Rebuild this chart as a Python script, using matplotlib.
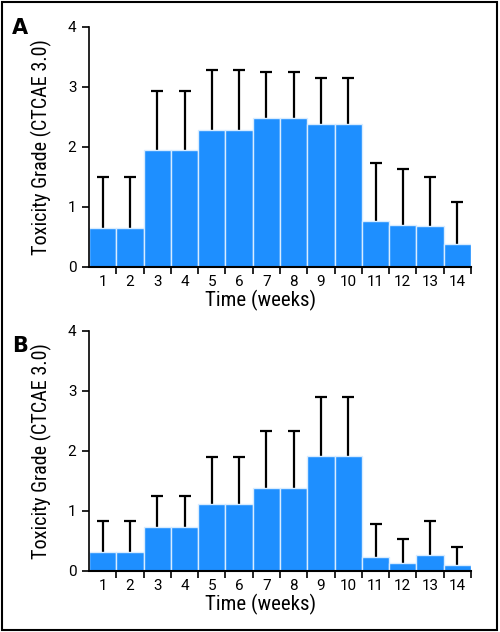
import matplotlib.pyplot as plt
from matplotlib.patches import Rectangle
import numpy as np

weeks = list(range(1, 15))
grade_a = [0.64, 0.64, 1.95, 1.95, 2.27, 2.27, 2.48, 2.48, 2.37, 2.37, 0.76, 0.69, 0.67, 0.37]
err_a = [0.86, 0.86, 0.98, 0.98, 1.00, 1.00, 0.77, 0.77, 0.78, 0.78, 0.96, 0.94, 0.83, 0.70]
grade_b = [0.31, 0.31, 0.72, 0.72, 1.11, 1.11, 1.38, 1.38, 1.91, 1.91, 0.23, 0.12, 0.26, 0.09]
err_b = [0.51, 0.51, 0.53, 0.53, 0.79, 0.79, 0.94, 0.94, 0.99, 0.99, 0.55, 0.41, 0.57, 0.31]

label_font = ['Roboto Condensed', 'DejaVu Sans']
tick_font = ['Roboto', 'DejaVu Sans']
bar_color = '#1e8fff'

fig = plt.figure(figsize=(5.0, 6.32), dpi=100)

def draw_panel(ax, vals, errs):
    ax.bar(weeks, vals, width=1.0, color=bar_color, edgecolor='#d8ecff', linewidth=1.0, zorder=2)
    eb = ax.errorbar(weeks, vals, yerr=[np.zeros(len(errs)), errs], fmt='none', ecolor='black',
                     elinewidth=1.6, capsize=4.5, capthick=1.6, zorder=1)
    eb[1][0].set_visible(False)  # only the upper cap
    ax.set_xlim(0.5, 14.5)
    ax.set_ylim(0, 4)
    ax.spines['top'].set_visible(False)
    ax.spines['right'].set_visible(False)
    ax.spines['left'].set_linewidth(1.2)
    ax.spines['bottom'].set_linewidth(1.5)
    ax.set_yticks([0, 1, 2, 3, 4])
    ax.set_xticks(weeks)
    ax.set_xticklabels([str(w) for w in weeks])
    ax.tick_params(axis='x', length=0, pad=6)
    ax.set_xticks(np.arange(1.5, 15, 1), minor=True)
    ax.tick_params(axis='x', which='minor', length=5, width=1.2)
    ax.tick_params(axis='y', length=5, width=1.2, pad=4)
    for lab in ax.get_xticklabels() + ax.get_yticklabels():
        lab.set_fontfamily(tick_font)
        lab.set_fontsize(11)
    ax.set_xlabel('Time (weeks)', family=label_font, fontsize=15, labelpad=3)
    ax.xaxis.set_label_coords(0.45, -0.095)
    ax.set_ylabel('Toxicity Grade (CTCAE 3.0)', family=label_font, fontsize=14.5, labelpad=11)
    return ax

ax1 = fig.add_axes([0.178, 0.578, 0.764, 0.380])
draw_panel(ax1, grade_a, err_a)
ax2 = fig.add_axes([0.178, 0.097, 0.764, 0.380])
draw_panel(ax2, grade_b, err_b)

fig.text(0.024, 0.955, 'A', fontsize=15, fontweight='bold', family='DejaVu Sans', va='center')
fig.text(0.024, 0.452, 'B', fontsize=15, fontweight='bold', family='DejaVu Sans', va='center')

fig.patches.append(Rectangle((0.003, 0.003), 0.991, 0.994, transform=fig.transFigure,
                             fill=False, edgecolor='black', linewidth=1.5))

fig.savefig('out.png', dpi=100)
